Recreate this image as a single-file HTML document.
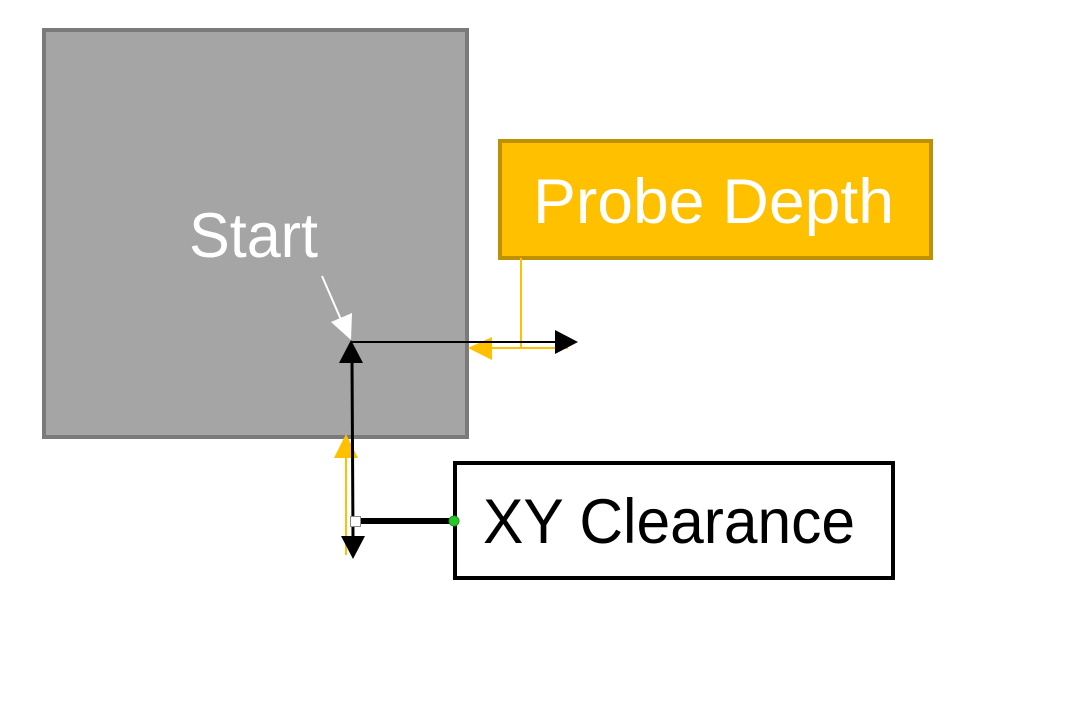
<!DOCTYPE html>
<html>
<head>
<meta charset="utf-8">
<style>
html,body{margin:0;padding:0;background:#fff;}
svg{display:block;}
text{font-family:"Liberation Sans",sans-serif;}
</style>
</head>
<body>
<svg width="1066" height="713" viewBox="0 0 1066 713" xmlns="http://www.w3.org/2000/svg">
  <rect x="0" y="0" width="1066" height="713" fill="#ffffff"/>
  <!-- Gray Start box -->
  <rect x="44" y="30" width="423" height="407" fill="#a5a5a5" stroke="#7a7a7a" stroke-width="4"/>
  <text x="189" y="257" font-size="63" fill="#ffffff" textLength="129" lengthAdjust="spacingAndGlyphs">Start</text>

  <!-- Probe Depth box -->
  <rect x="500" y="141" width="431" height="117" fill="#ffc000" stroke="#bf9000" stroke-width="4"/>
  <text x="533" y="223" font-size="63" fill="#ffffff" textLength="361" lengthAdjust="spacingAndGlyphs">Probe Depth</text>

  <!-- XY Clearance box -->
  <rect x="455" y="463" width="438" height="115" fill="#ffffff" stroke="#000000" stroke-width="4"/>
  <text x="483" y="543" font-size="63" fill="#000000" textLength="372" lengthAdjust="spacingAndGlyphs">XY Clearance</text>

  <!-- White arrow pointing to start -->
  <line x1="322" y1="276" x2="342" y2="322" stroke="#ffffff" stroke-width="2"/>
  <polygon points="351,340 331,322 352,313" fill="#ffffff"/>

  <!-- Orange connector from Probe Depth -->
  <line x1="521" y1="258" x2="521" y2="348" stroke="#ffc000" stroke-width="2"/>
  <line x1="490" y1="348" x2="568" y2="348" stroke="#ffc000" stroke-width="2"/>
  <polygon points="468,348 492,337 492,360" fill="#ffc000"/>

  <!-- Black horizontal arrow -->
  <line x1="351" y1="342" x2="558" y2="342" stroke="#000000" stroke-width="2"/>
  <polygon points="578,342 555,330 555,354" fill="#000000"/>

  <!-- Orange vertical up arrow -->
  <line x1="346" y1="456" x2="346" y2="555" stroke="#ffc000" stroke-width="2"/>
  <polygon points="346,434 334,458 358,458" fill="#ffc000"/>

  <!-- Black vertical line with arrows -->
  <line x1="352" y1="360" x2="353" y2="538" stroke="#000000" stroke-width="3"/>
  <polygon points="351,340 339,363 363,363" fill="#000000"/>
  <polygon points="353,559 341,536 365,536" fill="#000000"/>

  <!-- Thick horizontal connector to XY Clearance -->
  <line x1="355" y1="521" x2="454" y2="521" stroke="#000000" stroke-width="6"/>
  <rect x="350.5" y="516.5" width="10" height="10" fill="#ffffff" stroke="#8a8a8a" stroke-width="1"/>
  <circle cx="454" cy="521" r="5" fill="#22cc22" stroke="#2e8b2e" stroke-width="1"/>
</svg>
</body>
</html>
